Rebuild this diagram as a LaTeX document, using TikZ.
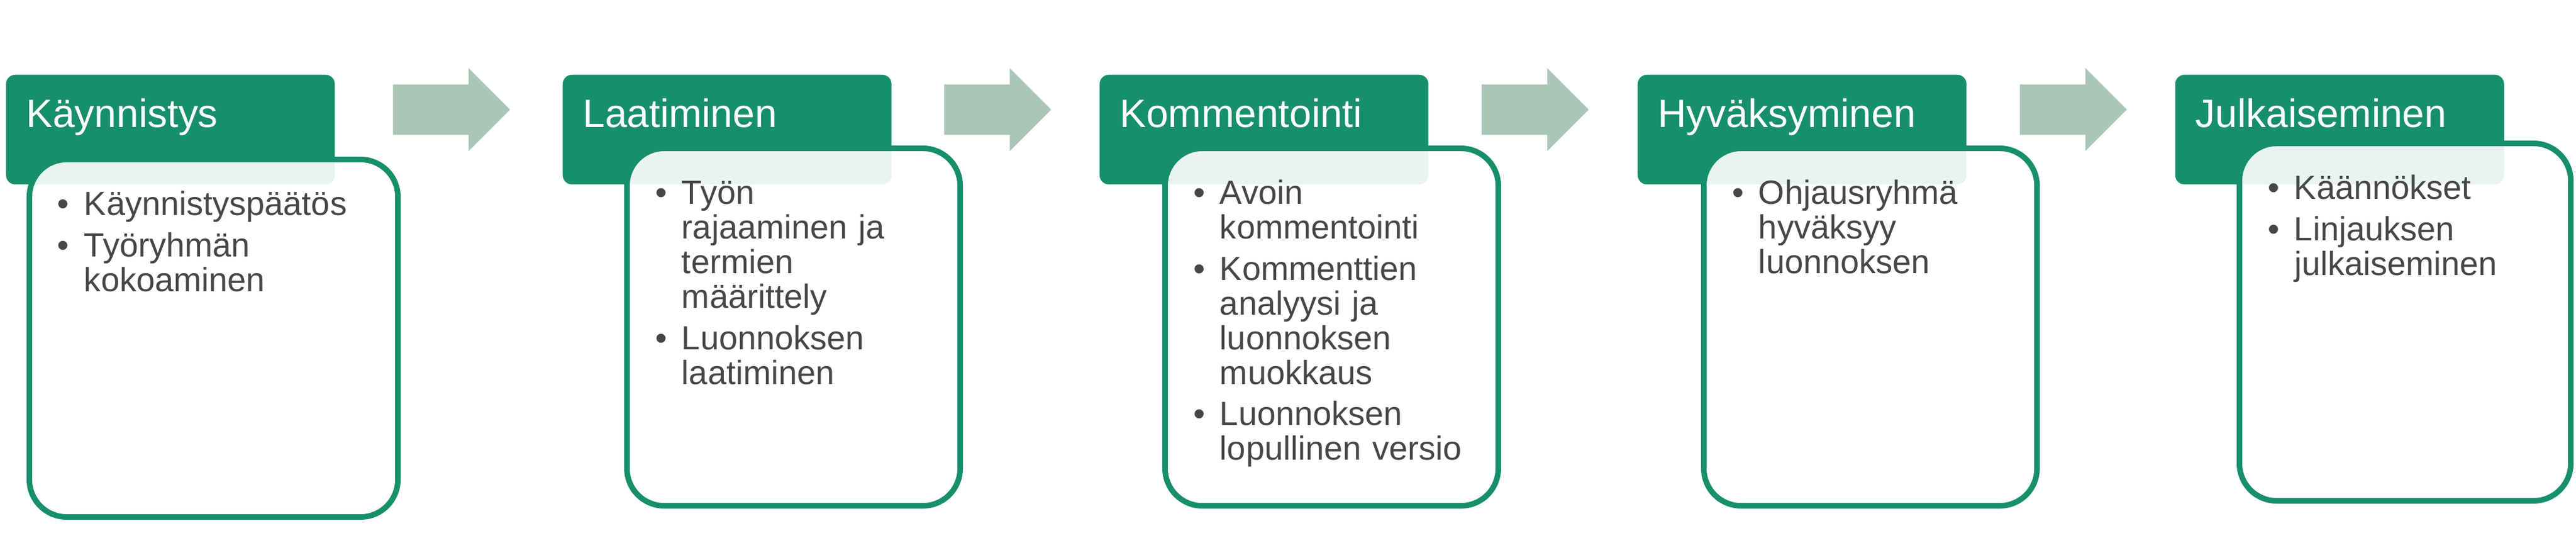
\documentclass[tikz,border=0pt]{standalone}
\usepackage{fontspec}
\setmainfont{Liberation Sans}
\usetikzlibrary{shapes.arrows}
\definecolor{stagegreen}{RGB}{23,143,106}
\definecolor{arrowgreen}{RGB}{169,198,184}
\definecolor{itemgray}{RGB}{70,70,70}
\begin{document}
\begin{tikzpicture}[
        head/.style={anchor=north west, fill=stagegreen, rounded corners=0.15cm, text=white,
            inner xsep=0.33cm, inner ysep=0pt, text width=4.65cm, align=left,
            text height=0.85cm, text depth=0.92cm, font=\fontsize{18.2pt}{22pt}\selectfont},
        card/.style={anchor=north west, draw=stagegreen, line width=0.09cm, fill=white,
            fill opacity=0.9, text opacity=1, rounded corners=0.6cm,
            inner xsep=0.455cm, inner ysep=0pt, text width=4.47cm, align=left,
            text height=0.905cm, text depth=4.865cm, text=itemgray,
            font=\fontsize{15.4pt}{15.9pt}\selectfont},
        flow/.style={single arrow, anchor=tail, fill=arrowgreen, inner xsep=0pt, inner ysep=0.4cm,
            minimum height=1.73cm, single arrow head extend=0.265cm}
    ]
        \useasboundingbox (0, 0) rectangle (41.6, -9.04);

        \node[head] at (0.09, -1.20)  (t1)    {Käynnistys};
        \node[card, text width=5.04cm] at (0.43, -2.53)  (b1)    {\begin{tabular}[t]{@{}l@{\hspace{0.24cm}}l@{}}
            \textbullet & Käynnistyspäätös \\[3pt]
            \textbullet & Työryhmän \\
                        & kokoaminen
        \end{tabular}};
        \node[flow, minimum height=1.89cm] at (6.34, -1.77)  (a1)    {};

        \node[head] at (9.08, -1.20)  (t2)    {Laatiminen};
        \node[card] at (10.08, -2.35)  (b2)    {\begin{tabular}[t]{@{}l@{\hspace{0.24cm}}l@{}}
            \textbullet & Työn \\
                        & rajaaminen ja \\
                        & termien \\
                        & määrittely \\[3pt]
            \textbullet & Luonnoksen \\
                        & laatiminen
        \end{tabular}};
        \node[flow] at (15.24, -1.77)  (a2)    {};

        \node[head] at (17.75, -1.20)  (t3)    {Kommentointi};
        \node[card] at (18.77, -2.35)  (b3)    {\begin{tabular}[t]{@{}l@{\hspace{0.24cm}}l@{}}
            \textbullet & Avoin \\
                        & kommentointi \\[3pt]
            \textbullet & Kommenttien \\
                        & analyysi ja \\
                        & luonnoksen \\
                        & muokkaus \\[3pt]
            \textbullet & Luonnoksen \\
                        & lopullinen versio
        \end{tabular}};
        \node[flow] at (23.92, -1.77)  (a3)    {};

        \node[head] at (26.44, -1.20)  (t4)    {Hyväksyminen};
        \node[card] at (27.47, -2.35)  (b4)    {\begin{tabular}[t]{@{}l@{\hspace{0.24cm}}l@{}}
            \textbullet & Ohjausryhmä \\
                        & hyväksyy \\
                        & luonnoksen
        \end{tabular}};
        \node[flow] at (32.61, -1.77)  (a4)    {};

        \node[head] at (35.12, -1.20)  (t5)    {Julkaiseminen};
        \node[card, text width=4.44cm] at (36.12, -2.27)  (b5)    {\begin{tabular}[t]{@{}l@{\hspace{0.24cm}}l@{}}
            \textbullet & Käännökset \\[3pt]
            \textbullet & Linjauksen \\
                        & julkaiseminen
        \end{tabular}};
    \end{tikzpicture}
\end{document}
